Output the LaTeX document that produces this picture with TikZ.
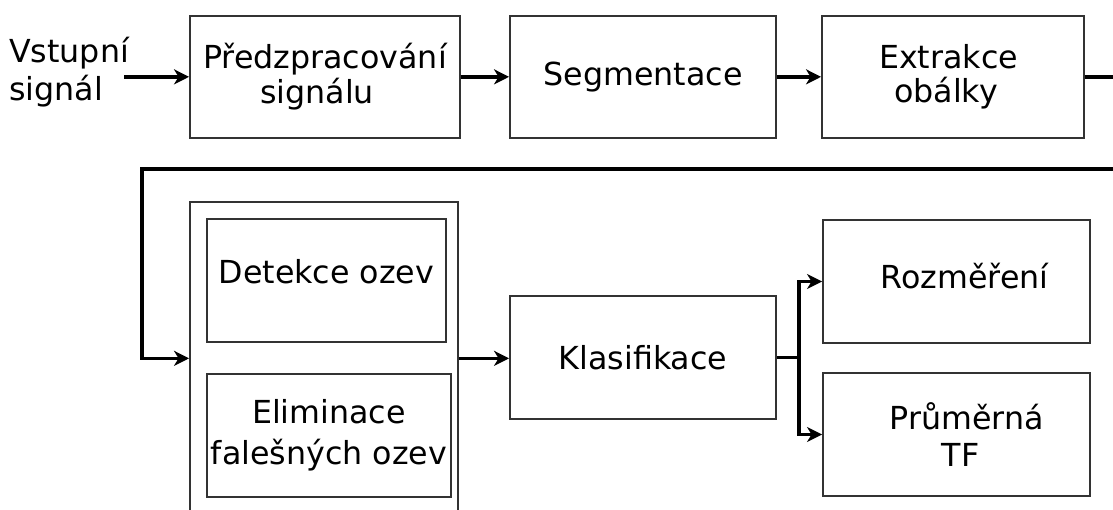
\documentclass[tikz,border=0pt]{standalone}
\usepackage{fontspec}
\setmainfont{DejaVu Sans}
\usetikzlibrary{arrows.meta}

% text size of all block labels, with the line spacing as second argument
\newcommand\blocktext[1]{\fontsize{31.7}{#1}\selectfont}

\begin{document}
\begin{tikzpicture}[x=1pt,y=-1pt,
  box/.style={draw=black!80, line width=1.9pt, minimum height=123pt,
              inner sep=0pt, align=center, font=\blocktext{35}},
  conn/.style={line width=3.6pt, -{Stealth[length=15pt,width=15pt,inset=4.5pt]}},
  wire/.style={line width=3.6pt}]

\clip (0,0) rectangle (1113,510);

% ---- first row: preprocessing chain ----
\node[anchor=west, inner sep=0pt, align=left, font=\blocktext{38}] (in) at (9,72)
  {Vstupní\\signál};
\node[box, minimum width=270pt, minimum height=122.3pt] (pre) at (325,76.85)
  {Předzpracování\\signálu\hspace*{16pt}};
\node[box, minimum width=266pt, minimum height=122.3pt] (seg) at (643,76.85)
  {Segmentace};
\node[box, minimum width=262pt, minimum height=122.3pt, font=\blocktext{34.5}] (extr) at (953,76.85)
  {Extrakce\hspace*{9pt}\\obálky\hspace*{14pt}};

% ---- second row: detection group, classification, outputs ----
\node[draw=black!80, line width=1.9pt, minimum width=268pt, minimum height=313.3pt,
      inner sep=0pt] (grp) at (324,358.35) {};
\node[box, minimum width=239pt, text depth=18pt] (det) at (326.5,280.5)
  {Detekce ozev};
\node[box, minimum width=244pt, font=\blocktext{41}] (elim) at (329,435.5)
  {Eliminace\\falešných ozev};
\node[box, minimum width=266pt] (klas) at (643,357.5) {Klasifikace};
\node[box, minimum width=267pt, text depth=11pt] (rozm) at (956.5,281.5)
  {\hspace*{16pt}Rozměření};
\node[box, minimum width=267pt, font=\blocktext{37}] (prum) at (956.5,434.5)
  {\hspace*{20pt}Průměrná\\\hspace*{8pt}TF};

% ---- connectors ----
\draw[conn] ([xshift=-5pt]in.east |- pre.west) -- (pre.west);
\draw[conn] (pre.east) -- (seg.west);
\draw[conn] (seg.east) -- (extr.west);
\draw[conn] (extr.east) -- (1125,76.85) -- (1125,169) -- (142,169) |- (grp.west);
\draw[conn] (grp.east) -- (grp.east -| klas.west);
\coordinate (split) at (799,357.5);
\draw[wire] (klas.east) -- (split);
\draw[conn] (split) |- (rozm.west);
\draw[conn] (split) |- (prum.west);
\end{tikzpicture}
\end{document}
